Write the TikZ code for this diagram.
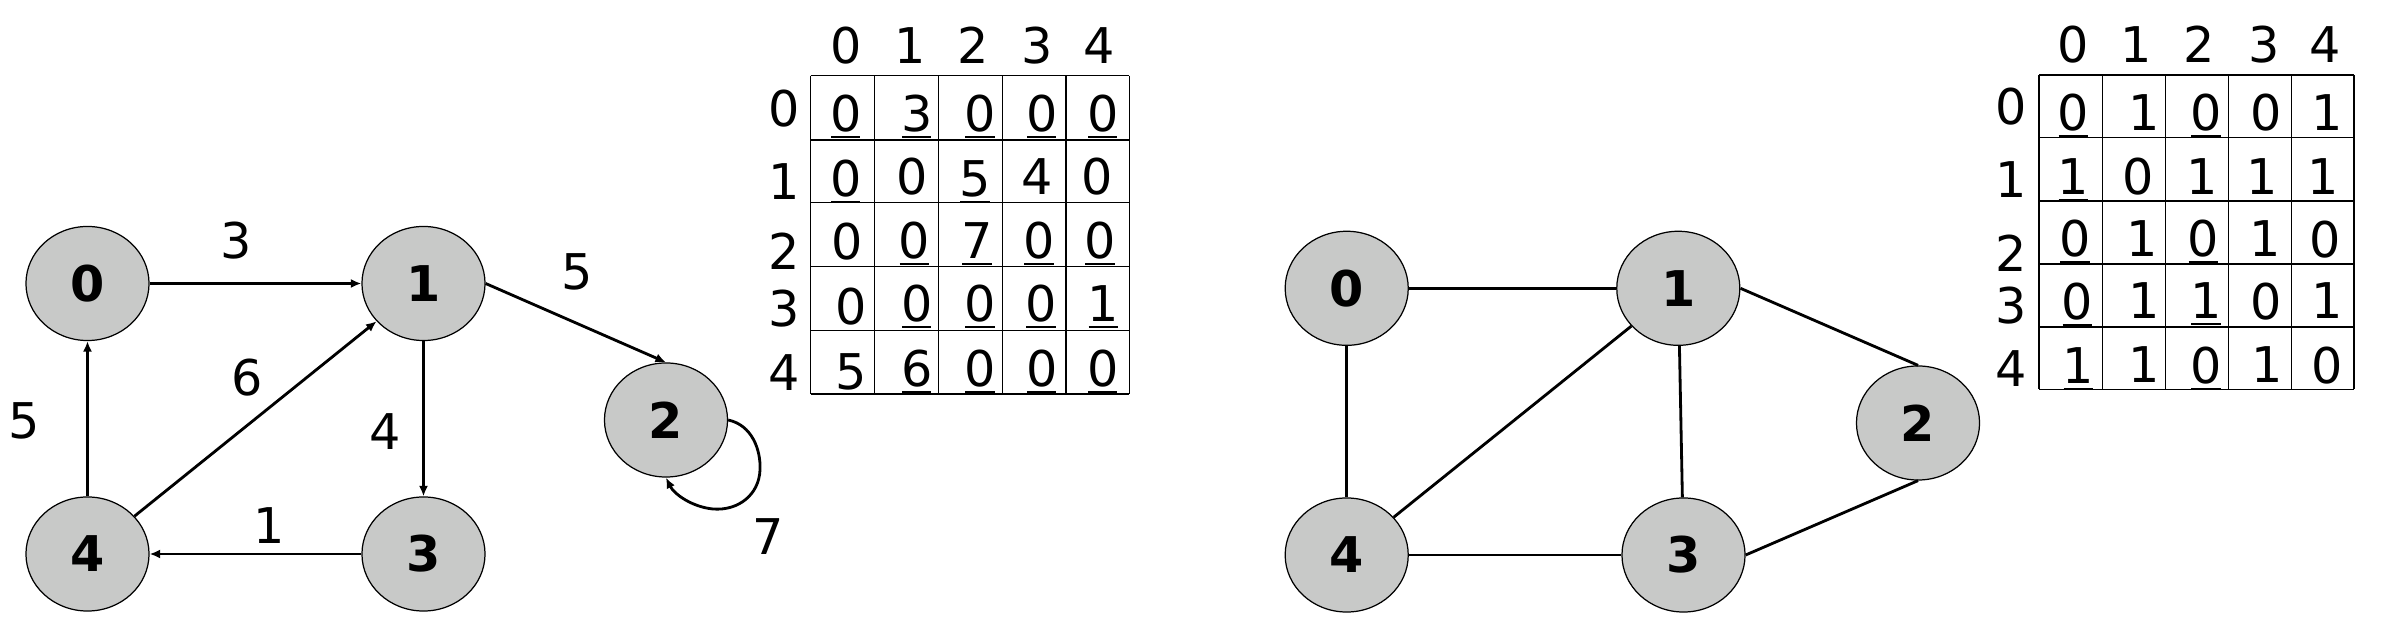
\documentclass[tikz,border=0pt]{standalone}
\usepackage{fontspec}
\setmainfont{DejaVu Sans}
\usetikzlibrary{shapes.geometric,arrows.meta}
\definecolor{nodegray}{RGB}{200,201,200}
\tikzset{
  vtx/.style={ellipse, draw=black, line width=0.35pt, fill=nodegray,
    minimum width=1.23cm, minimum height=1.14cm, inner sep=0pt,
    font=\fontsize{14}{16}\selectfont\bfseries},
  edge/.style={line width=0.8pt},
  arc/.style={line width=0.8pt, -{Latex[length=3pt,width=2.6pt]}},
  wlab/.style={inner sep=0pt, font=\fontsize{14}{16}\selectfont},
  cell/.style={anchor=base, inner sep=0pt, font=\fontsize{14}{16}\selectfont},
  grid/.style={line width=0.4pt}
}
\newcommand{\ul}[1]{\setbox0\hbox{#1}\rlap{\kern0.3pt\rule[-1.8pt]{\dimexpr\wd0-0.6pt\relax}{0.55pt}}\box0}
\begin{document}
\begin{tikzpicture}[x=0.01cm,y=-0.01cm]
\fill[white] (0,0) rectangle (2397,631);
\useasboundingbox (0,0) rectangle (2397,631);

% ---------- left directed graph ----------
\node[vtx] (n0) at (87.5,283.5) {0};
\node[vtx] (n1) at (423.5,283.5) {1};
\node[vtx] (n2) at (666,420) {2};
\node[vtx] (n3) at (423.5,554) {3};
\node[vtx] (n4) at (87.5,554) {4};
\draw[arc] (n0) -- (n1);
\draw[arc] (n1.east) -- (n2.north);
\draw[arc] (n1) -- (n3);
\draw[arc] (n3) -- (n4);
\draw[arc] (n4) -- (n0);
\draw[arc] (n4) -- (n1);
\draw[arc] (n2.east) .. controls (752,425) and (761,450) .. (760,470)
  .. controls (759,495) and (738,511) .. (713,509)
  .. controls (692,507) and (674,494) .. (n2.south);
\node[wlab] (w01) at (236,241) {3};
\node[wlab] (w40) at (24.5,421) {5};
\node[wlab] (w41) at (247,378) {6};
\node[wlab] (w13) at (385,432) {4};
\node[wlab] (w34) at (269,526) {1};
\node[wlab] (w12) at (577,272) {5};
\node[wlab] (w22) at (768,537) {7};

% ---------- left matrix ----------
\foreach \x in {810.7,874.7,938.7,1002.3,1066,1129.3}
  \draw[grid] (\x,75.7) -- (\x,394);
\foreach \y in {75.7,140,202.7,266.7,330.7,394}
  \draw[grid] (810.7,\y) -- (1129.3,\y);
\node[cell] (lc0) at (845.7,63.3) {0};
\node[cell] (lc1) at (910,63.3) {1};
\node[cell] (lc2) at (972.7,63.3) {2};
\node[cell] (lc3) at (1037.3,63.3) {3};
\node[cell] (lc4) at (1099.3,63.3) {4};
\node[cell] (lr0) at (784.5,126.7) {0};
\node[cell] (lr1) at (784.5,200) {1};
\node[cell] (lr2) at (784.5,270) {2};
\node[cell] (lr3) at (784.5,326.7) {3};
\node[cell] (lr4) at (784.5,390.7) {4};
% row 0
\node[cell] (a00) at (845.7,131.5) {\ul{0}};
\node[cell] (a01) at (916.7,131.5) {\ul{3}};
\node[cell] (a02) at (980,131.5) {\ul{0}};
\node[cell] (a03) at (1041.7,131.5) {\ul{0}};
\node[cell] (a04) at (1102.7,131.5) {\ul{0}};
% row 1
\node[cell] (a10) at (845.7,196.5) {\ul{0}};
\node[cell] (a11) at (911.7,195) {0};
\node[cell] (a12) at (975,196.5) {\ul{5}};
\node[cell] (a13) at (1036.7,195) {4};
\node[cell] (a14) at (1096.7,195) {0};
% row 2
\node[cell] (a20) at (847.3,260) {0};
\node[cell] (a21) at (914.3,258.3) {\ul{0}};
\node[cell] (a22) at (977,258.3) {\ul{7}};
\node[cell] (a23) at (1039,258.3) {\ul{0}};
\node[cell] (a24) at (1100,258.3) {\ul{0}};
% row 3
\node[cell] (a30) at (851,325) {0};
\node[cell] (a31) at (916.7,321.7) {\ul{0}};
\node[cell] (a32) at (980,321.7) {\ul{0}};
\node[cell] (a33) at (1041,321.7) {\ul{0}};
\node[cell] (a34) at (1103.3,321.7) {\ul{1}};
% row 4
\node[cell] (a40) at (850.7,390) {5};
\node[cell] (a41) at (916.7,386.7) {\ul{6}};
\node[cell] (a42) at (980,386.7) {\ul{0}};
\node[cell] (a43) at (1041.7,386.7) {\ul{0}};
\node[cell] (a44) at (1102.7,386.7) {\ul{0}};

% ---------- right undirected graph ----------
\node[vtx] (m0) at (1346.7,288.3) {0};
\node[vtx] (m1) at (1678.3,288.3) {1};
\node[vtx] (m2) at (1918,423) {2};
\node[vtx] (m3) at (1683.5,555) {3};
\node[vtx] (m4) at (1346.7,555) {4};
\draw[edge] (m0) -- (m1);
\draw[edge] (m0) -- (m4);
\draw[edge] (m4) -- (m1);
\draw[edge] (m1) -- (m3);
\draw[edge] (m4) -- (m3);
\draw[edge] (m1.east) -- (m2.north);
\draw[edge] (m3.east) -- (m2.south);

% ---------- right matrix ----------
\foreach \x in {2039,2102.3,2165.3,2228.3,2291.3,2354}
  \draw[grid] (\x,75) -- (\x,389.3);
\foreach \y in {75,137.7,201,264,327,389.3}
  \draw[grid] (2039,\y) -- (2354,\y);
\node[cell] (rc0) at (2072.7,62.7) {0};
\node[cell] (rc1) at (2136,62.7) {1};
\node[cell] (rc2) at (2199.3,62.7) {2};
\node[cell] (rc3) at (2264,62.7) {3};
\node[cell] (rc4) at (2325,62.7) {4};
\node[cell] (rr0) at (2010.7,125) {0};
\node[cell] (rr1) at (2010.7,197.3) {1};
\node[cell] (rr2) at (2010.7,271.7) {2};
\node[cell] (rr3) at (2010.7,323.3) {3};
\node[cell] (rr4) at (2010.7,386.7) {4};
% row 0
\node[cell] (b00) at (2073.3,131) {\ul{0}};
\node[cell] (b01) at (2144,130.5) {1};
\node[cell] (b02) at (2206,131) {\ul{0}};
\node[cell] (b03) at (2266,131) {0};
\node[cell] (b04) at (2327.3,130.5) {1};
% row 1
\node[cell] (b10) at (2073.3,195) {\ul{1}};
\node[cell] (b11) at (2138.3,195) {0};
\node[cell] (b12) at (2201.7,195) {1};
\node[cell] (b13) at (2261.7,195) {1};
\node[cell] (b14) at (2322.7,195) {1};
% row 2
\node[cell] (b20) at (2075,256.5) {\ul{0}};
\node[cell] (b21) at (2141.7,256.5) {1};
\node[cell] (b22) at (2203.3,256.5) {\ul{0}};
\node[cell] (b23) at (2265,256.5) {1};
\node[cell] (b24) at (2325,257.5) {0};
% row 3
\node[cell] (b30) at (2077.3,320) {\ul{0}};
\node[cell] (b31) at (2144,319) {1};
\node[cell] (b32) at (2206,319) {\ul{1}};
\node[cell] (b33) at (2266,320) {0};
\node[cell] (b34) at (2327.3,319) {1};
% row 4
\node[cell] (b40) at (2078.3,383.3) {\ul{1}};
\node[cell] (b41) at (2144,383) {1};
\node[cell] (b42) at (2206,383.3) {\ul{0}};
\node[cell] (b43) at (2267.3,383) {1};
\node[cell] (b44) at (2326.7,383.3) {0};
\end{tikzpicture}
\end{document}
